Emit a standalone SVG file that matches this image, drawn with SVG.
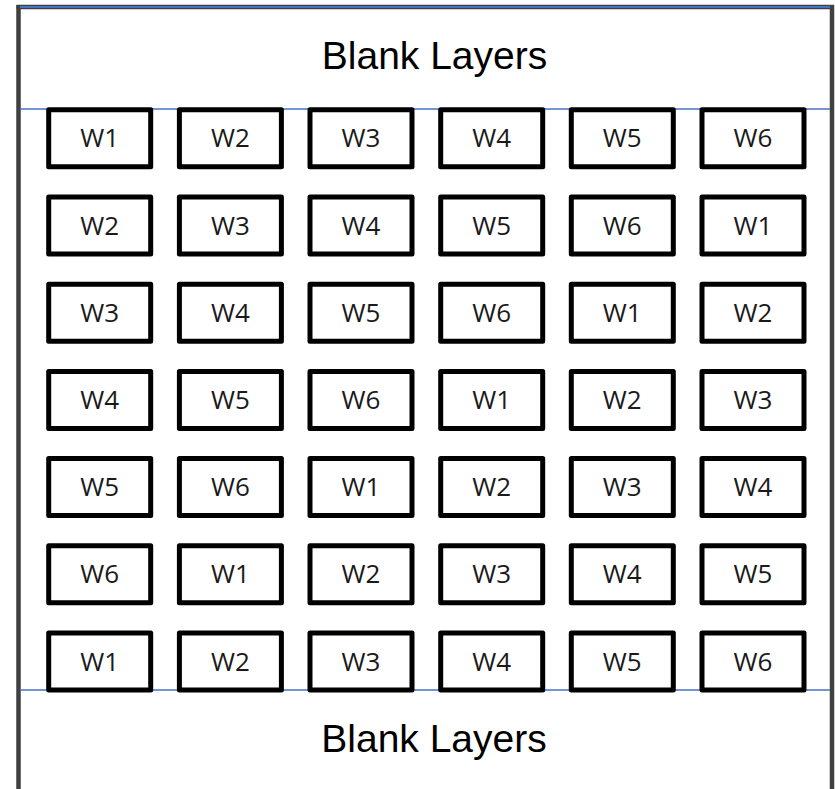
<svg xmlns="http://www.w3.org/2000/svg" width="835" height="789" viewBox="0 0 835 789">
<style>
.frame{stroke:#404040;stroke-width:4.5;fill:none}
.blue{stroke:#4472C4;stroke-width:1.5;fill:none}
.box{fill:#ffffff;stroke:#000000;stroke-width:5;stroke-linejoin:round}
.w{font-family:"Open Sans","Noto Sans",sans-serif;font-size:26px;fill:#1a1a1a;text-anchor:middle}
.title{font-family:"Liberation Sans",Arial,sans-serif;font-size:39px;fill:#000000;text-anchor:middle}
</style>
<rect width="835" height="789" fill="#ffffff"/>
<g id="frame">
<line class="frame" x1="18.5" y1="5" x2="18.5" y2="789"/>
<line class="frame" x1="832" y1="5" x2="832" y2="789"/>
<line class="frame" x1="16.5" y1="7" x2="834" y2="7"/>
<line x1="20" y1="7" x2="830" y2="7" stroke="#4472C4" stroke-width="2"/>
</g>
<g id="connectors">
<line class="blue" x1="20.5" y1="109" x2="830" y2="109"/>
<line class="blue" x1="20.5" y1="690" x2="830" y2="690"/>
</g>
<g id="blank-top"><text class="title" x="434.5" y="69.3">Blank Layers</text></g>
<g id="blank-bottom"><text class="title" x="434" y="752.3">Blank Layers</text></g>
<g id="r1c1"><rect class="box" x="48.7" y="109.8" width="102" height="57"/><text class="w" x="99.7" y="147.3">W1</text></g>
<g id="r1c2"><rect class="box" x="179.4" y="109.8" width="102" height="57"/><text class="w" x="230.4" y="147.3">W2</text></g>
<g id="r1c3"><rect class="box" x="310" y="109.8" width="102" height="57"/><text class="w" x="361" y="147.3">W3</text></g>
<g id="r1c4"><rect class="box" x="440.7" y="109.8" width="102" height="57"/><text class="w" x="491.7" y="147.3">W4</text></g>
<g id="r1c5"><rect class="box" x="571.3" y="109.8" width="102" height="57"/><text class="w" x="622.3" y="147.3">W5</text></g>
<g id="r1c6"><rect class="box" x="702" y="109.8" width="102" height="57"/><text class="w" x="753" y="147.3">W6</text></g>
<g id="r2c1"><rect class="box" x="48.7" y="197" width="102" height="57"/><text class="w" x="99.7" y="234.5">W2</text></g>
<g id="r2c2"><rect class="box" x="179.4" y="197" width="102" height="57"/><text class="w" x="230.4" y="234.5">W3</text></g>
<g id="r2c3"><rect class="box" x="310" y="197" width="102" height="57"/><text class="w" x="361" y="234.5">W4</text></g>
<g id="r2c4"><rect class="box" x="440.7" y="197" width="102" height="57"/><text class="w" x="491.7" y="234.5">W5</text></g>
<g id="r2c5"><rect class="box" x="571.3" y="197" width="102" height="57"/><text class="w" x="622.3" y="234.5">W6</text></g>
<g id="r2c6"><rect class="box" x="702" y="197" width="102" height="57"/><text class="w" x="753" y="234.5">W1</text></g>
<g id="r3c1"><rect class="box" x="48.7" y="284.2" width="102" height="57"/><text class="w" x="99.7" y="321.7">W3</text></g>
<g id="r3c2"><rect class="box" x="179.4" y="284.2" width="102" height="57"/><text class="w" x="230.4" y="321.7">W4</text></g>
<g id="r3c3"><rect class="box" x="310" y="284.2" width="102" height="57"/><text class="w" x="361" y="321.7">W5</text></g>
<g id="r3c4"><rect class="box" x="440.7" y="284.2" width="102" height="57"/><text class="w" x="491.7" y="321.7">W6</text></g>
<g id="r3c5"><rect class="box" x="571.3" y="284.2" width="102" height="57"/><text class="w" x="622.3" y="321.7">W1</text></g>
<g id="r3c6"><rect class="box" x="702" y="284.2" width="102" height="57"/><text class="w" x="753" y="321.7">W2</text></g>
<g id="r4c1"><rect class="box" x="48.7" y="371.4" width="102" height="57"/><text class="w" x="99.7" y="408.9">W4</text></g>
<g id="r4c2"><rect class="box" x="179.4" y="371.4" width="102" height="57"/><text class="w" x="230.4" y="408.9">W5</text></g>
<g id="r4c3"><rect class="box" x="310" y="371.4" width="102" height="57"/><text class="w" x="361" y="408.9">W6</text></g>
<g id="r4c4"><rect class="box" x="440.7" y="371.4" width="102" height="57"/><text class="w" x="491.7" y="408.9">W1</text></g>
<g id="r4c5"><rect class="box" x="571.3" y="371.4" width="102" height="57"/><text class="w" x="622.3" y="408.9">W2</text></g>
<g id="r4c6"><rect class="box" x="702" y="371.4" width="102" height="57"/><text class="w" x="753" y="408.9">W3</text></g>
<g id="r5c1"><rect class="box" x="48.7" y="458.6" width="102" height="57"/><text class="w" x="99.7" y="496.1">W5</text></g>
<g id="r5c2"><rect class="box" x="179.4" y="458.6" width="102" height="57"/><text class="w" x="230.4" y="496.1">W6</text></g>
<g id="r5c3"><rect class="box" x="310" y="458.6" width="102" height="57"/><text class="w" x="361" y="496.1">W1</text></g>
<g id="r5c4"><rect class="box" x="440.7" y="458.6" width="102" height="57"/><text class="w" x="491.7" y="496.1">W2</text></g>
<g id="r5c5"><rect class="box" x="571.3" y="458.6" width="102" height="57"/><text class="w" x="622.3" y="496.1">W3</text></g>
<g id="r5c6"><rect class="box" x="702" y="458.6" width="102" height="57"/><text class="w" x="753" y="496.1">W4</text></g>
<g id="r6c1"><rect class="box" x="48.7" y="545.8" width="102" height="57"/><text class="w" x="99.7" y="583.3">W6</text></g>
<g id="r6c2"><rect class="box" x="179.4" y="545.8" width="102" height="57"/><text class="w" x="230.4" y="583.3">W1</text></g>
<g id="r6c3"><rect class="box" x="310" y="545.8" width="102" height="57"/><text class="w" x="361" y="583.3">W2</text></g>
<g id="r6c4"><rect class="box" x="440.7" y="545.8" width="102" height="57"/><text class="w" x="491.7" y="583.3">W3</text></g>
<g id="r6c5"><rect class="box" x="571.3" y="545.8" width="102" height="57"/><text class="w" x="622.3" y="583.3">W4</text></g>
<g id="r6c6"><rect class="box" x="702" y="545.8" width="102" height="57"/><text class="w" x="753" y="583.3">W5</text></g>
<g id="r7c1"><rect class="box" x="48.7" y="633" width="102" height="57"/><text class="w" x="99.7" y="670.5">W1</text></g>
<g id="r7c2"><rect class="box" x="179.4" y="633" width="102" height="57"/><text class="w" x="230.4" y="670.5">W2</text></g>
<g id="r7c3"><rect class="box" x="310" y="633" width="102" height="57"/><text class="w" x="361" y="670.5">W3</text></g>
<g id="r7c4"><rect class="box" x="440.7" y="633" width="102" height="57"/><text class="w" x="491.7" y="670.5">W4</text></g>
<g id="r7c5"><rect class="box" x="571.3" y="633" width="102" height="57"/><text class="w" x="622.3" y="670.5">W5</text></g>
<g id="r7c6"><rect class="box" x="702" y="633" width="102" height="57"/><text class="w" x="753" y="670.5">W6</text></g>
</svg>
